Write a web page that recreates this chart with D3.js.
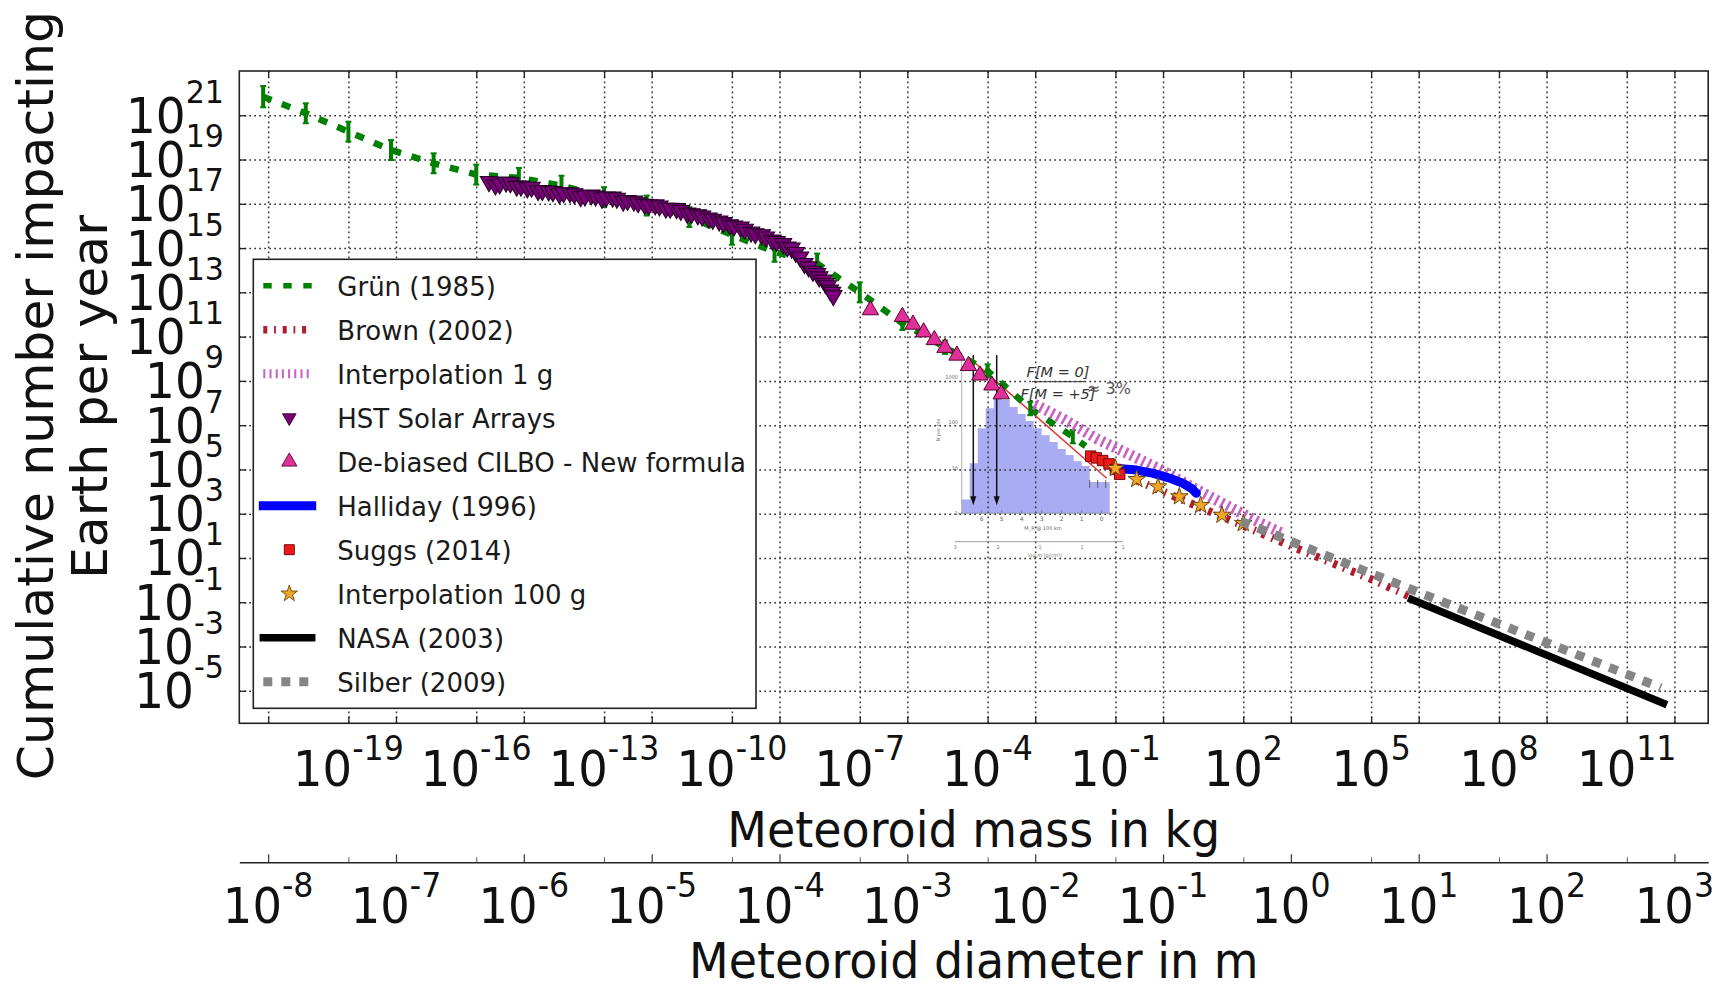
<!DOCTYPE html>
<html>
<head>
<meta charset="utf-8">
<script src="https://cdn.jsdelivr.net/npm/d3@7/dist/d3.min.js"></script>
<style>
html,body{margin:0;padding:0;background:#fff;}
svg{display:block;}
text{font-family:"DejaVu Sans",sans-serif;}
</style>
</head>
<body>
<svg id="chart" width="1718" height="989"></svg>
<script>
// ---------------- data (log10 values) ----------------
const massTickExps = [-19,-16,-13,-10,-7,-4,-1,2,5,8,11];
const diamTickExps = [-8,-7,-6,-5,-4,-3,-2,-1,0,1,2,3];
const fluxTickExps = [21,19,17,15,13,11,9,7,5,3,1,-1,-3,-5];

const grunLogMass = [-21,-20,-19,-18,-17,-16,-15,-14,-13,-12,-11,-10,-9,-8,-7,-6,-5,-4,-3,-2,-1.7];
const grunLogN    = [21.84,21.09,20.26,19.43,18.83,18.32,18.17,17.82,17.3,16.92,16.4,15.6,14.83,14.3,13.0,11.6,10.52,9.45,7.75,6.48,6.05];
const grunErr     = [0.48,0.45,0.45,0.45,0.45,0.45,0.45,0.45,0.45,0.45,0.45,0.45,0.45,0.45,0.45,0.3,0.3,0.3,0.3,0.3,0];

const brownLogMass = [-0.5,3.17,4.11,5.05,5.91];
const brownLogN    = [4.5,1.5,0.75,0.0,-0.75];

const interp1gLogMass = [-2.9,-2.2,-1.45,-0.75,0.05,0.83,1.6,2.4,2.95];
const interp1gLogN    = [7.95,7.25,6.4,5.75,5.0,4.17,3.38,2.58,2.08];

const hstLogMass = [-15.7,-15.55,-15.45,-15.3,-15.2,-15.05,-14.95,-14.8,-14.7,-14.55,-14.45,-14.3,-14.2,-14.05,-13.95,-13.8,-13.7,-13.55,-13.45,-13.3,-13.2,-13.05,-12.95,-12.8,-12.7,-12.55,-12.45,-12.3,-12.2,-12.05,-11.95,-11.8,-11.7,-11.55,-11.45,-11.3,-11.2,-11.05,-10.95,-10.8,-10.7,-10.55,-10.45,-10.3,-10.2,-10.05,-9.95,-9.8,-9.7,-9.55,-9.45,-9.3,-9.2,-9.05,-8.95,-8.8,-8.7,-8.6,-8.5,-8.4,-8.3,-8.2,-8.1,-8.0,-7.95,-7.85,-7.8,-7.75,-7.7,-7.65,-7.62];
const hstLogN    = [18.0,17.85,17.9,17.98,17.95,17.8,17.8,17.72,17.75,17.6,17.6,17.58,17.55,17.45,17.5,17.5,17.45,17.32,17.35,17.4,17.35,17.25,17.3,17.3,17.25,17.12,17.15,17.12,17.05,16.98,16.95,16.95,16.9,16.8,16.8,16.78,16.7,16.58,16.55,16.5,16.45,16.36,16.3,16.22,16.15,16.05,16.0,15.95,15.85,15.72,15.65,15.6,15.5,15.36,15.3,15.2,15.05,15.0,14.8,14.6,14.3,14.15,13.95,13.85,13.7,13.55,13.4,13.3,13.1,13.0,12.85];

const cilboLogMass = [-6.75,-6.0,-5.75,-5.5,-5.25,-5.0,-4.72,-4.45,-4.18,-3.9,-3.68];
const cilboLogN    = [12.2,11.9,11.55,11.2,10.85,10.5,10.15,9.68,9.25,8.8,8.4];

const hallidayLogMass = [-1.01,-0.5,-0.11,0.28,0.59,0.8,0.9];
const hallidayLogN    = [5.05,4.97,4.82,4.6,4.37,4.12,3.92];

const suggsLogMass = [-1.58,-1.45,-1.3,-1.15,-1.0,-0.9];
const suggsLogN    = [5.6,5.52,5.4,5.25,5.0,4.78];

const interp100gLogMass = [-1,-0.5,0,0.5,1,1.5,2];
const interp100gLogN    = [5.05,4.55,4.22,3.77,3.38,2.94,2.56];

const nasaLogMass = [5.95,11.86];
const nasaLogN    = [-0.87,-5.57];

const silberLogMass = [1.95,3.72,6.15,11.55,11.8];
const silberLogN    = [2.66,1.28,-0.58,-4.67,-4.86];

// pasted inset histogram (magnitude bins, counts)
const insetMagEdges = [7.0,6.6,6.2,5.8,5.4,5.0,4.6,4.2,3.8,3.4,3.0,2.6,2.2,1.8,1.4,1.0,0.6,0.2,-0.2,-0.4];
const insetCounts   = [2,12.6,74,204,336,309,217,152,107,74,52,37,26,19,14,11,4.9,4.9,4.9];
const insetFitMag   = [6.5,-0.25];
const insetFitCount = [2340,5.9];
const insetArrowMag = [6.42,5.25];
const insetArrowCount = [3000,1.5];
const insetYTicks = [1,10,100,1000];
const insetXTicks = [6,5,4,3,2,1,0];

const legendLabels = ["Grün (1985)","Brown (2002)","Interpolation 1 g","HST Solar Arrays","De-biased CILBO - New formula","Halliday (1996)","Suggs (2014)","Interpolation 100 g","NASA (2003)","Silber (2009)"];

// ---------------- layout ----------------
const W = 1718, H = 989;
const P = {left:239.3, right:1708.2, top:71, bottom:723.3};
const massDomainExp = [-21.56, 12.91];
const fluxDomainExp = [-6.47, 23];
const rho = 2500;

const svg = d3.select('#chart');
svg.append('rect').attr('width',W).attr('height',H).attr('fill','#fff');

const x = d3.scaleLog().domain(massDomainExp.map(e=>Math.pow(10,e))).range([P.left,P.right]);
const y = d3.scaleLog().domain(fluxDomainExp.map(e=>Math.pow(10,e))).range([P.bottom,P.top]);
const diamOf = m => Math.cbrt(6*m/(Math.PI*rho));
const xd = d3.scaleLog().domain(x.domain().map(diamOf)).range(x.range());

const px = lm => x(Math.pow(10,lm));
const py = ln => y(Math.pow(10,ln));
const zip = (a,b) => a.map((v,i)=>[v,b[i]]);
const line = d3.line().x(d=>px(d[0])).y(d=>py(d[1]));

// ---------------- inset (fill underneath grid) ----------------
const ix = d3.scaleLinear().domain([7,-0.4]).range([961.7,1109.7]);
const iy = d3.scaleLog().domain([1,1000]).range([513.3,376.8]);
const histPts = insetMagEdges.map((m,i)=>[m, insetCounts[Math.min(i,insetCounts.length-1)]]);
const histArea = d3.area().x(d=>ix(d[0])).y0(iy(1)).y1(d=>iy(d[1])).curve(d3.curveStepAfter);
svg.append('path').datum(histPts).attr('d',histArea).attr('fill','#a9acf2');

// ---------------- grid ----------------
const gridG = svg.append('g');
function gridStyle(g){
  g.select('.domain').remove();
  g.selectAll('.tick line').attr('stroke','#333').attr('stroke-width',1.5).attr('stroke-dasharray','1.7,3.3');
  g.selectAll('.tick text').remove();
}
gridG.append('g').attr('transform',`translate(0,${P.bottom})`)
  .call(d3.axisBottom(x).tickValues(massTickExps.map(e=>Math.pow(10,e))).tickSize(-(P.bottom-P.top)).tickFormat(''))
  .call(gridStyle);
gridG.append('g').attr('transform',`translate(0,${P.bottom})`)
  .call(d3.axisBottom(xd).tickValues(diamTickExps.map(e=>Math.pow(10,e))).tickSize(-(P.bottom-P.top)).tickFormat(''))
  .call(gridStyle);
gridG.append('g').attr('transform',`translate(${P.left},0)`)
  .call(d3.axisLeft(y).tickValues(fluxTickExps.map(e=>Math.pow(10,e))).tickSize(-(P.right-P.left)).tickFormat(''))
  .call(gridStyle);

// ---------------- inset overlays ----------------
const inG = svg.append('g');
inG.append('line').attr('x1',961.7).attr('x2',961.7).attr('y1',352).attr('y2',513.3).attr('stroke','#999').attr('stroke-width',0.8);
inG.append('line').attr('x1',958).attr('x2',1113).attr('y1',513.3).attr('y2',513.3).attr('stroke','#888').attr('stroke-width',0.8);
inG.append('line').attr('x1',955).attr('x2',1123).attr('y1',541.7).attr('y2',541.7).attr('stroke','#888').attr('stroke-width',0.8);
insetYTicks.forEach(v=>{
  inG.append('text').attr('x',958).attr('y',iy(v)+2).attr('text-anchor','end').attr('font-size',5).attr('fill','#666').text(String(v));
});
insetXTicks.forEach(v=>{
  inG.append('line').attr('x1',ix(v)).attr('x2',ix(v)).attr('y1',513.3).attr('y2',510).attr('stroke','#777').attr('stroke-width',0.7);
  inG.append('text').attr('x',ix(v)).attr('y',521).attr('text-anchor','middle').attr('font-size',6).attr('fill','#666').text(String(v));
});
[[955,'3'],[998,'2'],[1040,'1'],[1082,'1'],[1123,'1']].forEach(d=>{
  inG.append('text').attr('x',d[0]).attr('y',549).attr('text-anchor','middle').attr('font-size',5).attr('fill','#777').text(d[1]);
});
inG.append('text').attr('x',1043).attr('y',530).attr('text-anchor','middle').attr('font-size',5).attr('fill','#666').text('M_R @ 100 km');
inG.append('text').attr('x',1045).attr('y',557).attr('text-anchor','middle').attr('font-size',5).attr('fill','#777').text('log m (g/cm³)');
inG.append('text').attr('transform','translate(940,430) rotate(-90)').attr('text-anchor','middle').attr('font-size',5).attr('fill','#777').text('N per bin');
inG.append('line').attr('x1',ix(insetFitMag[0])).attr('y1',iy(insetFitCount[0])).attr('x2',ix(insetFitMag[1])).attr('y2',iy(insetFitCount[1]))
  .attr('stroke','#e03030').attr('stroke-width',1.4);
insetArrowMag.forEach(m=>{
  const ax = ix(m), y0 = iy(insetArrowCount[0]), y1 = iy(insetArrowCount[1]);
  inG.append('line').attr('x1',ax).attr('x2',ax).attr('y1',y0).attr('y2',y1-6).attr('stroke','#111').attr('stroke-width',1.5);
  inG.append('path').attr('d',`M${ax-3},${y1-9}L${ax+3},${y1-9}L${ax},${y1}Z`).attr('fill','#111');
});
[ -0.0, 0.4, 0.8 ].forEach(m=>{
  inG.append('line').attr('x1',ix(m)+4).attr('x2',ix(m)+4).attr('y1',iy(4.9)-2).attr('y2',iy(4.9)+6).attr('stroke','#444').attr('stroke-width',0.8);
});
const serif = '"Liberation Serif","DejaVu Serif",serif';
inG.append('text').attr('x',1058).attr('y',376.5).attr('text-anchor','middle').attr('font-family',serif).attr('font-style','italic').attr('font-size',14.5).attr('fill','#333').text('F[M = 0]');
inG.append('line').attr('x1',1032).attr('x2',1085).attr('y1',381.7).attr('y2',381.7).attr('stroke','#333').attr('stroke-width',1);
inG.append('text').attr('x',1058).attr('y',398.5).attr('text-anchor','middle').attr('font-family',serif).attr('font-style','italic').attr('font-size',14.5).attr('fill','#333').text('F[M = +5]');
inG.append('text').attr('x',1087).attr('y',394).attr('font-family',serif).attr('font-size',16).attr('fill','#555').text('≈ 3%');

// ---------------- series ----------------
const dataG = svg.append('g');
// Grün
dataG.append('path').datum(zip(grunLogMass,grunLogN)).attr('d',line)
  .attr('fill','none').attr('stroke','#008000').attr('stroke-width',6.5).attr('stroke-dasharray','9,11');
grunLogMass.forEach((m,i)=>{
  const e = grunErr[i]; if(!e) return;
  const cx = px(m), ya = py(grunLogN[i]-e), yb = py(grunLogN[i]+e);
  dataG.append('line').attr('x1',cx).attr('x2',cx).attr('y1',ya).attr('y2',yb).attr('stroke','#008000').attr('stroke-width',4);
  [ya,yb].forEach(v=>dataG.append('line').attr('x1',cx-3).attr('x2',cx+3).attr('y1',v).attr('y2',v).attr('stroke','#008000').attr('stroke-width',2));
});
// Brown
dataG.append('path').datum(zip(brownLogMass,brownLogN)).attr('d',line)
  .attr('fill','none').attr('stroke','#b01c2e').attr('stroke-width',8).attr('stroke-dasharray','4,6.8,1.8,6.8');
// Interpolation 1 g
dataG.append('path').datum(zip(interp1gLogMass,interp1gLogN)).attr('d',line)
  .attr('fill','none').attr('stroke','#c861c4').attr('stroke-width',11).attr('stroke-dasharray','2.6,3.8');
// HST
const triDown = d3.symbol().type(d3.symbolTriangle).size(130)();
const triDownLg = d3.symbol().type(d3.symbolTriangle).size(80)();
const triUp = d3.symbol().type(d3.symbolTriangle).size(115)();
const triUpLg = d3.symbol().type(d3.symbolTriangle).size(100)();
dataG.append('g').selectAll('path').data(zip(hstLogMass,hstLogN)).join('path')
  .attr('d',triDown).attr('transform',d=>`translate(${px(d[0])},${py(d[1])}) rotate(180)`)
  .attr('fill','#7a007a').attr('stroke','#2a002a').attr('stroke-width',1.1);
// CILBO
dataG.append('g').selectAll('path').data(zip(cilboLogMass,cilboLogN)).join('path')
  .attr('d',triUp).attr('transform',d=>`translate(${px(d[0])},${py(d[1])})`)
  .attr('fill','#e0309a').attr('stroke','#5a0030').attr('stroke-width',1);
// Halliday
dataG.append('path').datum(zip(hallidayLogMass,hallidayLogN)).attr('d',line)
  .attr('fill','none').attr('stroke','#0000ff').attr('stroke-width',9).attr('stroke-linecap','round').attr('stroke-linejoin','round');
// Suggs
const sq = d3.symbol().type(d3.symbolSquare).size(110)();
dataG.append('g').selectAll('path').data(zip(suggsLogMass,suggsLogN)).join('path')
  .attr('d',sq).attr('transform',d=>`translate(${px(d[0])},${py(d[1])})`)
  .attr('fill','#ee1a1a').attr('stroke','#600').attr('stroke-width',0.9);
// Interpolation 100 g
const star = d3.symbol().type(d3.symbolStar).size(95)();
dataG.append('g').selectAll('path').data(zip(interp100gLogMass,interp100gLogN)).join('path')
  .attr('d',star).attr('transform',d=>`translate(${px(d[0])},${py(d[1])})`)
  .attr('fill','#f2a526').attr('stroke','#6a4a10').attr('stroke-width',1);
// NASA
dataG.append('path').datum(zip(nasaLogMass,nasaLogN)).attr('d',line)
  .attr('fill','none').attr('stroke','#000').attr('stroke-width',7.5).attr('stroke-linecap','square');
// Silber
dataG.append('path').datum(zip(silberLogMass,silberLogN)).attr('d',line)
  .attr('fill','none').attr('stroke','#858585').attr('stroke-width',9).attr('stroke-dasharray','9,9');

// ---------------- legend ----------------
const L = {x0:253.3, y0:259.3, x1:756, y1:708.3, row0:285.7, step:44.0, hx0:263.3, hx1:311.7, mx:289.3, tx:337.3};
const lg = svg.append('g');
lg.append('rect').attr('x',L.x0).attr('y',L.y0).attr('width',L.x1-L.x0).attr('height',L.y1-L.y0)
  .attr('fill','#fff').attr('stroke','#222').attr('stroke-width',1.6);
const rowY = i => L.row0 + i*L.step;
function lgLine(i, stroke, w, dash, cap){
  lg.append('line').attr('x1',L.hx0).attr('x2',L.hx1).attr('y1',rowY(i)).attr('y2',rowY(i))
    .attr('stroke',stroke).attr('stroke-width',w).attr('stroke-dasharray',dash||null).attr('stroke-linecap',cap||'butt');
}
lgLine(0,'#008000',5.5,'8.4,11.6');
lgLine(1,'#b01c2e',7.5,'4,6.8,1.8,6.8');
lgLine(2,'#c861c4',9,'2,4.2');
lg.append('path').attr('d',triDownLg).attr('transform',`translate(${L.mx},${rowY(3)}) rotate(180)`).attr('fill','#7a007a').attr('stroke','#2e002e').attr('stroke-width',0.9);
lg.append('path').attr('d',triUpLg).attr('transform',`translate(${L.mx},${rowY(4)})`).attr('fill','#e0309a').attr('stroke','#5a0030').attr('stroke-width',0.9);
lgLine(5,'#0000ff',9,null,'square');
lg.append('path').attr('d',d3.symbol().type(d3.symbolSquare).size(100)()).attr('transform',`translate(${L.mx},${rowY(6)})`).attr('fill','#ee1a1a').attr('stroke','#600').attr('stroke-width',0.9);
lg.append('path').attr('d',d3.symbol().type(d3.symbolStar).size(85)()).attr('transform',`translate(${L.mx},${rowY(7)})`).attr('fill','#f2a526').attr('stroke','#6a4a10').attr('stroke-width',0.9);
lgLine(8,'#000',7.5,null,'square');
lgLine(9,'#858585',9,'9,9');
legendLabels.forEach((t,i)=>{
  lg.append('text').attr('x',L.tx).attr('y',rowY(i)+10).attr('font-size',26).attr('fill','#1a1a1a').text(t);
});

// ---------------- frame and inward ticks ----------------
const frameG = svg.append('g');
function tickStyle(g){
  g.select('.domain').remove();
  g.selectAll('.tick line').attr('stroke','#222').attr('stroke-width',1.3);
  g.selectAll('.tick text').remove();
}
const mv = massTickExps.map(e=>Math.pow(10,e)), dv = diamTickExps.map(e=>Math.pow(10,e)), fv = fluxTickExps.map(e=>Math.pow(10,e));
frameG.append('g').attr('transform',`translate(0,${P.bottom})`).call(d3.axisBottom(x).tickValues(mv).tickSize(-7).tickFormat('')).call(tickStyle);
frameG.append('g').attr('transform',`translate(0,${P.bottom})`).call(d3.axisBottom(xd).tickValues(dv).tickSize(-7).tickFormat('')).call(tickStyle);
frameG.append('g').attr('transform',`translate(0,${P.top})`).call(d3.axisTop(x).tickValues(mv).tickSize(-7).tickFormat('')).call(tickStyle);
frameG.append('g').attr('transform',`translate(0,${P.top})`).call(d3.axisTop(xd).tickValues(dv).tickSize(-7).tickFormat('')).call(tickStyle);
frameG.append('g').attr('transform',`translate(${P.left},0)`).call(d3.axisLeft(y).tickValues(fv).tickSize(-7).tickFormat('')).call(tickStyle);
frameG.append('g').attr('transform',`translate(${P.right},0)`).call(d3.axisRight(y).tickValues(fv).tickSize(-7).tickFormat('')).call(tickStyle);
frameG.append('rect').attr('x',P.left).attr('y',P.top).attr('width',P.right-P.left).attr('height',P.bottom-P.top)
  .attr('fill','none').attr('stroke','#222').attr('stroke-width',1.6);

// ---------------- diameter axis ----------------
const DY = 862.3;
const dAx = svg.append('g').attr('transform',`translate(0,${DY})`)
  .call(d3.axisBottom(xd).tickValues(dv).tickSize(-8).tickSizeOuter(0).tickFormat(''));
dAx.select('.domain').attr('stroke','#222').attr('stroke-width',1.5);
dAx.selectAll('.tick line').attr('stroke','#333').attr('stroke-width',1.2);
dAx.selectAll('.tick text').remove();
const dMin = svg.append('g').attr('transform',`translate(0,${DY})`)
  .call(d3.axisBottom(x).tickValues(mv).tickSize(-5).tickFormat(''));
dMin.select('.domain').remove();
dMin.selectAll('.tick line').attr('stroke','#555').attr('stroke-width',1);
dMin.selectAll('.tick text').remove();

// ---------------- labels ----------------
const labG = svg.append('g').attr('fill','#111');
function sci(xp, yp, exp, o){
  const t = labG.append('text').attr('transform',`translate(${xp},${yp}) scale(${o.sx},1)`)
    .attr('text-anchor',o.anchor).attr('font-size',o.base);
  t.append('tspan').text('10');
  t.append('tspan').attr('dy',-o.raise).attr('font-size',o.sup).text(String(exp));
}
fluxTickExps.forEach(e=>sci(224, py(e)+17.5, e, {sx:0.94, anchor:'end', base:50, sup:32, raise:30}));
massTickExps.forEach(e=>sci(px(e), 786, e, {sx:0.93, anchor:'middle', base:50, sup:34, raise:26}));
diamTickExps.forEach(e=>sci(xd(Math.pow(10,e)), 922.7, e, {sx:0.93, anchor:'middle', base:50, sup:34, raise:26}));

const midX = (P.left+P.right)/2;
labG.append('text').attr('transform',`translate(${midX},846.7) scale(0.92,1)`).attr('text-anchor','middle').attr('font-size',50).text('Meteoroid mass in kg');
labG.append('text').attr('transform',`translate(${midX},977.5) scale(0.92,1)`).attr('text-anchor','middle').attr('font-size',50).text('Meteoroid diameter in m');
labG.append('text').attr('transform','translate(53.3,395.5) rotate(-90)').attr('text-anchor','middle').attr('font-size',50.5).text('Cumulative number impacting');
labG.append('text').attr('transform','translate(106.7,397) rotate(-90)').attr('text-anchor','middle').attr('font-size',50.5).text('Earth per year');
</script>
</body>
</html>
